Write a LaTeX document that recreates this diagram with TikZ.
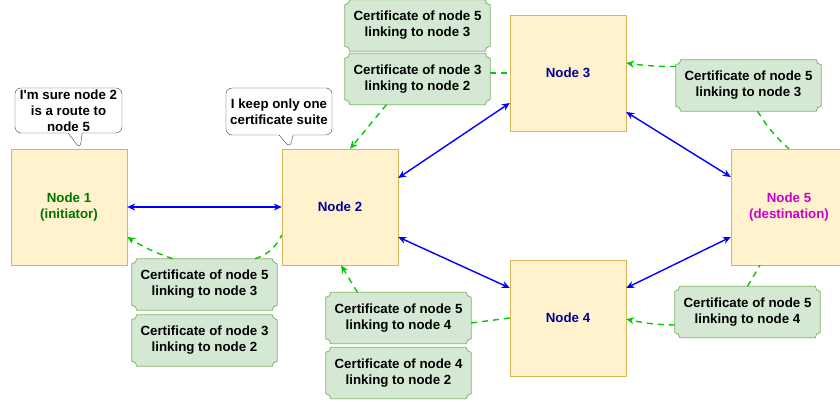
\documentclass[tikz,border=0pt]{standalone}
\usepackage{fontspec}
\setmainfont{Liberation Sans}
\usepackage{tikz}
\usetikzlibrary{arrows.meta,shapes.callouts,backgrounds}
\definecolor{peerfill}{HTML}{FFF2CC}
\definecolor{peerline}{HTML}{D6B656}
\definecolor{certfill}{HTML}{D5E8D4}
\definecolor{certline}{HTML}{82B366}
\definecolor{linkblue}{HTML}{0000FF}
\definecolor{certdash}{HTML}{00CC00}
\definecolor{initgreen}{HTML}{007300}
\definecolor{peerblue}{HTML}{000099}
\definecolor{destpink}{HTML}{CC00CC}

\begin{document}
\begin{tikzpicture}[
  x=1pt, y=-1pt,
  txt/.style={font=\fontsize{13.3}{16}\selectfont\bfseries, align=center},
  peer/.style={txt, rectangle, draw=peerline, fill=peerfill, minimum width=116pt, minimum height=116pt, inner sep=0pt},
  cert/.style={txt, rectangle, minimum width=145pt, minimum height=51pt, inner sep=0pt},
  ticket/.style={draw=certline, fill=certfill, line width=0.8pt},
  say/.style={txt, rectangle callout, draw=black!75, fill=white, rounded corners=6pt, inner sep=1.5pt, callout pointer width=14pt},
  link/.style={{Stealth[length=8pt,width=7pt]}-{Stealth[length=8pt,width=7pt]}, linkblue, line width=1.4pt},
  carr/.style={-{Stealth[length=8pt,width=7pt]}, certdash, line width=1.4pt, dash pattern=on 6pt off 5pt},
  cline/.style={certdash, line width=1.4pt, dash pattern=on 6pt off 5pt}
]
  \useasboundingbox (0,0) rectangle (840,403);
  % ---------------- peers ----------------
  \node[peer, text=initgreen] (n1) at (69,207) {Node 1\\(initiator)};
  \node[peer, text=peerblue] (n2) at (340,207) {Node 2};
  \node[peer, text=peerblue] (n3) at (568,73) {Node 3};
  \node[peer, text=peerblue] (n4) at (568,318) {Node 4};
  \node[peer, text=destpink] (n5) at (789,207) {Node 5\\(destination)};
  % ---------------- certificates ----------------
  \node[cert] (c1a) at (204.5,284.5) {Certificate of node 5\\linking to node 3};
  \node[cert] (c1b) at (204.5,340.5) {Certificate of node 3\\linking to node 2};
  \node[cert] (c2a) at (417.5,25.5) {Certificate of node 5\\linking to node 3};
  \node[cert] (c2b) at (417.5,79) {Certificate of node 3\\linking to node 2};
  \node[cert] (c4a) at (398.5,318) {Certificate of node 5\\linking to node 4};
  \node[cert] (c4b) at (398.5,373) {Certificate of node 4\\linking to node 2};
  \node[cert] (c5a) at (748.5,85.5) {Certificate of node 5\\linking to node 3};
  \node[cert] (c5b) at (747.5,312) {Certificate of node 5\\linking to node 4};
  % ticket outlines with notched corners, behind the texts
  \begin{scope}[on background layer]
    \foreach \c in {c1a,c1b,c2a,c2b,c4a,c4b,c5a,c5b}
      \draw[ticket] ([xshift=5pt]\c.south west) -- ([xshift=-5pt]\c.south east)
        arc[start angle=180, end angle=90, radius=5pt] -- ([yshift=-5pt]\c.north east)
        arc[start angle=270, end angle=180, radius=5pt] -- ([xshift=5pt]\c.north west)
        arc[start angle=0, end angle=-90, radius=5pt] -- ([yshift=5pt]\c.south west)
        arc[start angle=90, end angle=0, radius=5pt] -- cycle;
  \end{scope}
  % ---------------- speech bubbles ----------------
  \node[say, minimum width=107pt, minimum height=45pt, callout absolute pointer={(80,149)}] (s1) at (68.5,110.5) {I\textquotesingle m sure node 2\\is a route to\\node 5};
  \node[say, minimum width=106pt, minimum height=47pt, callout absolute pointer={(290,148)}] (s2) at (279,111.5) {I keep only one\\certificate suite};
  % ---------------- links ----------------
  \draw[link] (n1.east) -- (n2.west);
  \draw[link] ([yshift=29pt]n2.east) -- ([yshift=-30pt]n3.west);
  \draw[link] ([yshift=-30pt]n2.east) -- ([yshift=30pt]n4.west);
  \draw[link] ([yshift=-39pt]n3.east) -- ([yshift=30pt]n5.west);
  \draw[link] ([yshift=30pt]n4.east) -- ([yshift=-30pt]n5.west);
  % ---------------- certificate paths ----------------
  \draw[carr] ([xshift=41pt]c1a.north west) to[bend left=6] ([yshift=-30pt]n1.east);
  \draw[cline] ([xshift=-22pt]c1a.north east) to[bend right=22] ([yshift=-28pt]n2.west);
  \draw[carr] ([xshift=-31pt]c2b.south) -- ([xshift=10pt]n2.north);
  \draw[cline] (c2b.east |- n3.west) -- (n3.west);
  \draw[carr] ([yshift=19pt]c5a.west) to[bend left=4] ([yshift=10pt]n3.east);
  \draw[cline] ([xshift=9pt]c5a.south) to[bend right=8] (n5.north);
  \draw[carr] ([yshift=-13pt]c5b.west) to[bend left=6] ([yshift=-1pt]n4.east);
  \draw[cline] (c5b.north) -- ([xshift=-29pt]n5.south);
  \draw[carr] ([xshift=-41pt]c4a.north) -- ([xshift=1pt]n2.south);
  \draw[cline] ([yshift=-5pt]c4a.east) -- (n4.west);
\end{tikzpicture}
\end{document}
